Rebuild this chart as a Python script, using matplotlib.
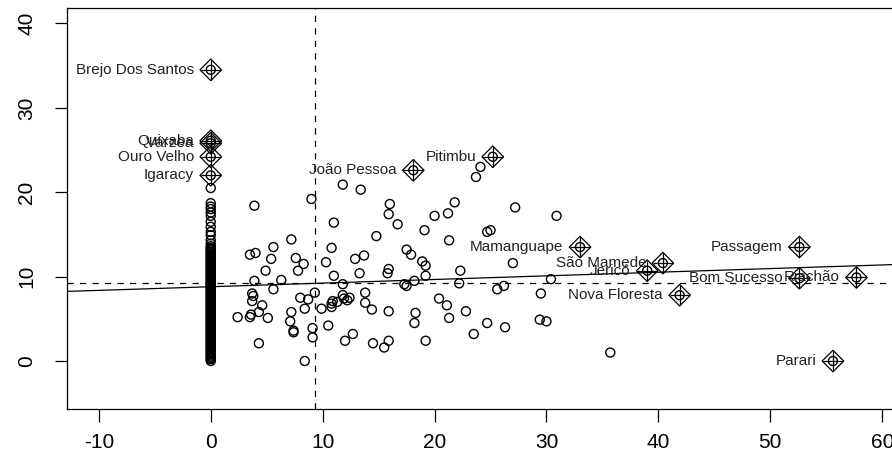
import matplotlib
matplotlib.use("Agg")
import matplotlib.pyplot as plt

plt.rcParams['font.family'] = ['Liberation Sans', 'DejaVu Sans']
plt.rcParams['axes.unicode_minus'] = False

# municipalities with value 0 (all sit on x = 0)
zero_y = [0.0, 0.2, 0.35, 0.5, 0.65, 0.8, 0.95, 1.1, 1.25, 1.4, 1.55, 1.7, 1.85,
          2.0, 2.15, 2.3, 2.45, 2.6, 2.75, 2.9, 3.05, 3.2, 3.35, 3.5, 3.65, 3.8,
          3.95, 4.1, 4.25, 4.4, 4.55, 4.7, 4.85, 5.0, 5.15, 5.3, 5.45, 5.6, 5.75,
          5.9, 6.05, 6.2, 6.35, 6.5, 6.65, 6.8, 6.95, 7.1, 7.25, 7.4, 7.55, 7.7,
          7.85, 8.0, 8.15, 8.3, 8.45, 8.6, 8.75, 8.9, 9.05, 9.2, 9.35, 9.5, 9.65,
          9.8, 9.95, 10.1, 10.25, 10.4, 10.55, 10.7, 10.85, 11.0, 11.15, 11.3,
          11.45, 11.6, 11.75, 11.9, 12.05, 12.2, 12.35, 12.5, 12.65, 12.8, 12.95,
          13.1, 13.25, 13.4, 13.6, 13.9, 14.3, 14.9, 15.3, 15.9, 16.5, 17.2,
          17.6, 18.0, 18.3, 18.7, 20.5]

# other unlabeled municipalities
pts_x = [3.9, 9.0, 11.0, 7.2, 5.6, 10.8, 3.5, 4.0, 5.4, 7.6, 8.3, 10.3, 4.9, 7.8,
         11.0, 3.9, 6.3, 5.6, 3.7, 3.8, 9.3, 8.0, 8.7, 10.9, 3.7, 4.6, 4.3, 8.4,
         9.9, 10.8, 2.4, 3.5, 3.6, 5.1, 7.2, 7.1, 7.4, 7.4, 9.1, 9.1, 10.5, 4.3,
         8.4, 11.3, 11.9, 10.8,
         11.8, 13.4, 16.0, 15.9, 16.7, 14.8, 21.8, 20.0, 21.2, 19.1, 21.3, 17.5,
         17.9, 12.9, 13.7, 13.3, 15.9, 15.8, 18.9, 19.2, 19.2, 22.3, 11.8, 17.3,
         17.5, 18.2, 22.2, 11.8, 12.2, 12.4, 13.8, 13.8, 14.4, 15.9, 18.3, 18.2,
         20.4, 21.1, 21.3, 22.8, 12.0, 12.7, 14.5, 15.5, 15.9, 19.2,
         24.1, 23.7, 27.2, 30.9, 24.7, 25.0, 27.0, 30.4, 25.6, 26.2, 29.5, 24.7,
         23.5, 26.3, 29.4, 30.0, 35.7]
pts_y = [18.4, 19.2, 16.4, 14.4, 13.5, 13.4, 12.6, 12.8, 12.1, 12.2, 11.5, 11.7,
         10.7, 10.7, 10.1, 9.5, 9.6, 8.5, 8.0, 7.7, 8.1, 7.5, 7.3, 7.1, 7.1, 6.6,
         5.8, 6.2, 6.2, 6.4, 5.2, 5.2, 5.5, 5.1, 5.8, 4.7, 3.4, 3.6, 3.9, 2.8, 4.2,
         2.1, 0.0, 7.0, 7.4, 6.8,
         20.9, 20.3, 18.6, 17.4, 16.2, 14.8, 18.8, 17.2, 17.5, 15.5, 14.3, 13.2,
         12.6, 12.1, 12.5, 10.4, 10.9, 10.4, 11.8, 11.3, 10.1, 10.7, 9.1, 9.1,
         8.9, 9.5, 9.2, 7.8, 7.2, 7.5, 8.1, 6.9, 6.1, 5.9, 5.7, 4.5,
         7.4, 6.6, 5.1, 5.9, 2.4, 3.2, 2.1, 1.6, 2.4, 2.4,
         23.0, 21.8, 18.2, 17.2, 15.3, 15.5, 11.6, 9.7, 8.5, 8.9, 8.0, 4.5,
         3.2, 4.0, 4.9, 4.7, 1.0]

# influential municipalities (labelled)
inf_names = ["Brejo Dos Santos", "Quixaba", "Várzea", "Ouro Velho", "Igaracy",
             "João Pessoa", "Pitimbu", "Mamanguape", "São Mamede", "Jericó",
             "Nova Floresta", "Passagem", "Bom Sucesso", "Riachão", "Parari"]
inf_x = [0, 0, 0, 0, 0, 18.1, 25.2, 33.0, 40.4, 39.0, 41.9, 52.6, 52.6, 57.7, 55.6]
inf_y = [34.5, 26.1, 25.8, 24.2, 22.0, 22.6, 24.2, 13.5, 11.6, 10.7, 7.8, 13.5,
         9.8, 9.9, 0.0]

mean_x = 9.3
mean_y = 9.2
slope = 0.043

x_ticks = [-10, 0, 10, 20, 30, 40, 50, 60]
y_ticks = [0, 10, 20, 30, 40]

fig = plt.figure(figsize=(8.92, 4.54), dpi=100)
ax = fig.add_axes([0.0748, 0.0985, 0.9393, 0.8832])

all_x = [0] * len(zero_y) + pts_x + inf_x
all_y = zero_y + pts_y + inf_y
ax.scatter(all_x, all_y, s=42, facecolors='none', edgecolors='black', linewidths=1.0)

# diamond-plus marker for influential points
ax.scatter(inf_x, inf_y, s=120, marker='D', facecolors='none', edgecolors='black', linewidths=0.9)
ax.scatter(inf_x, inf_y, s=210, marker='+', color='black', linewidths=0.9)
for name, x, y in zip(inf_names, inf_x, inf_y):
    ax.annotate(name, (x, y), xytext=(-12, 0), textcoords='offset points',
                ha='right', va='center', fontsize=11, color='#222222')

ax.axline((mean_x, mean_y), slope=slope, color='black', lw=0.9)
ax.axvline(mean_x, color='black', lw=0.9, linestyle=(0, (5, 5)))
ax.axhline(mean_y, color='black', lw=0.9, linestyle=(0, (5, 5)))

ax.set_xlim(-12.87, 62)
ax.set_ylim(-5.72, 41.79)
ax.set_xticks(x_ticks)
ax.set_yticks(y_ticks)
ax.tick_params(axis='both', direction='out', length=9, width=0.9, labelsize=15)
ax.tick_params(axis='x', pad=8)
ax.tick_params(axis='y', pad=13)
for lab in ax.get_yticklabels():
    lab.set_rotation(90)
    lab.set_va('center')
for sp in ax.spines.values():
    sp.set_linewidth(0.9)

fig.savefig("out.png", dpi=100)
